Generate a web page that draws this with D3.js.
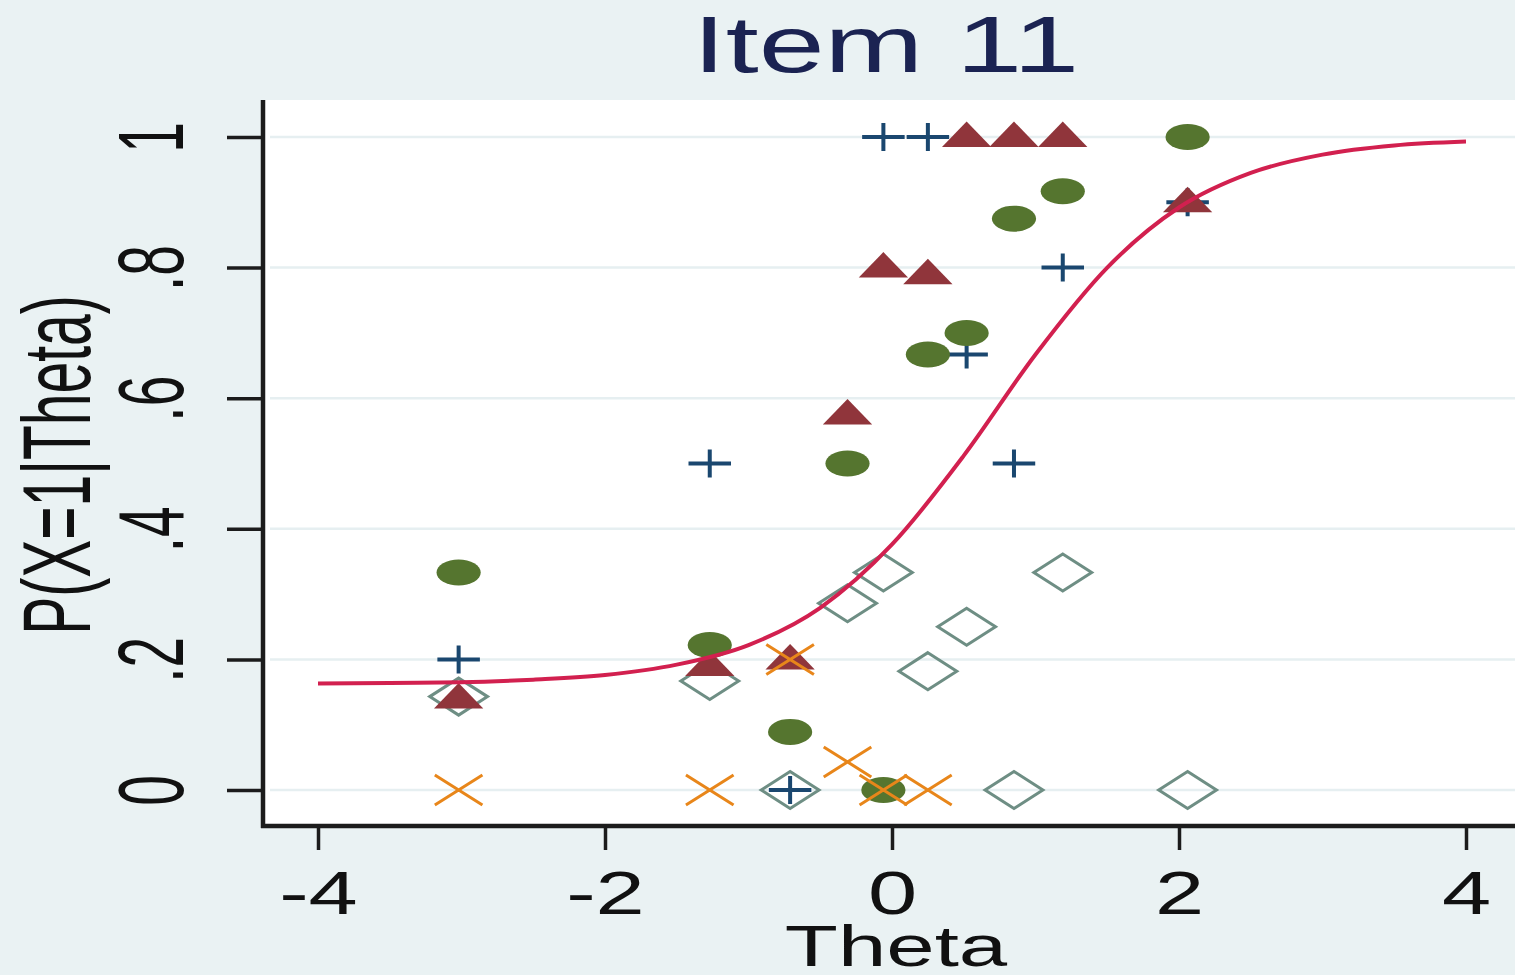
<!DOCTYPE html>
<html>
<head>
<meta charset="utf-8">
<script src="https://cdn.jsdelivr.net/npm/d3@7"></script>
<style>
  html, body { margin: 0; padding: 0; background: #eaf2f3; }
  svg { display: block; }
  text { font-family: "Liberation Sans", Arial, sans-serif; }
</style>
</head>
<body>
<script>
var W = 1515, H = 975;

// theta value of each score group
var thetaGroups = [-3.02, -1.27, -0.71, -0.31, -0.06, 0.25, 0.52, 0.85, 1.19, 2.06];

// observed proportions per category (null = no point)
var greenVals  = [0.333, 0.222, 0.089, 0.5, 0, 0.667, 0.70, 0.875, 0.917, 1];
var maroonVals = [0.14, 0.19, 0.2, 0.575, 0.8, 0.79, 1, 1, 1, 0.9];
var navyVals   = [0.2, 0.5, 0, null, 1, 1, 0.667, 0.5, 0.8, 0.9];
var orangeVals = [0, 0, 0.2, 0.043, 0, 0, null, null, null, null];
var tealVals   = [0.143, 0.167, 0, 0.286, 0.333, 0.182, 0.25, 0, 0.333, 0];

// fitted ICC
var curveTheta = [-4, -3.5, -3, -2.5, -2, -1.5, -1, -0.5, 0, 0.5, 1, 1.5, 2, 2.5, 3, 3.5, 4];
var curveP     = [0.163, 0.164, 0.165, 0.169, 0.176, 0.192, 0.222, 0.279, 0.376, 0.512, 0.667, 0.800, 0.892, 0.945, 0.973, 0.987, 0.993];

var xTicks = [-4, -2, 0, 2, 4];
var xTickLabels = ["-4", "-2", "0", "2", "4"];
var yTicks = [0, 0.2, 0.4, 0.6, 0.8, 1];
var yTickLabels = ["0", ".2", ".4", ".6", ".8", "1"];

var SX = 1.7; // horizontal stretch of the original picture

var x = d3.scaleLinear().domain([-4, 4]).range([318, 1466]);
var y = d3.scaleLinear().domain([0, 1]).range([790, 137]);

var svg = d3.select("body").append("svg")
  .attr("width", W)
  .attr("height", H);

svg.append("rect").attr("width", W).attr("height", H).attr("fill", "#eaf2f3");

// plot region
svg.append("rect")
  .attr("x", 265).attr("y", 100)
  .attr("width", W - 265).attr("height", 724)
  .attr("fill", "#ffffff");

// gridlines
svg.append("g").selectAll("line")
  .data(yTicks)
  .enter().append("line")
  .attr("x1", 270).attr("x2", W)
  .attr("y1", function (d) { return y(d); })
  .attr("y2", function (d) { return y(d); })
  .attr("stroke", "#e6eff1")
  .attr("stroke-width", 2.5);

// axes
var xAxis = svg.append("g")
  .attr("transform", "translate(0,826)")
  .call(d3.axisBottom(x).tickValues(xTicks).tickSize(24)
    .tickFormat(function (d, i) { return xTickLabels[i]; }));
xAxis.select(".domain").remove();
xAxis.selectAll(".tick line").attr("stroke", "#1c1c1c").attr("stroke-width", 3.5);
xAxis.selectAll(".tick text")
  .attr("y", 0).attr("dy", 0)
  .attr("transform", "translate(0,88) scale(1.45,1)")
  .attr("font-size", 61)
  .attr("fill", "#111");

var yAxis = svg.append("g")
  .attr("transform", "translate(263,0)")
  .call(d3.axisLeft(y).tickValues(yTicks).tickSize(36)
    .tickFormat(function (d, i) { return yTickLabels[i]; }));
yAxis.select(".domain").remove();
yAxis.selectAll(".tick line").attr("stroke", "#1c1c1c").attr("stroke-width", 3.5);
yAxis.selectAll(".tick text")
  .attr("x", 0).attr("dy", 0)
  .attr("text-anchor", "middle")
  .attr("transform", "translate(-80,0) scale(" + SX + ",1) rotate(-90)")
  .attr("font-size", 55)
  .attr("fill", "#111");

svg.append("line")
  .attr("x1", 263).attr("x2", 263).attr("y1", 100).attr("y2", 828)
  .attr("stroke", "#1c1c1c").attr("stroke-width", 4.5);
svg.append("line")
  .attr("x1", 261).attr("x2", W).attr("y1", 826).attr("y2", 826)
  .attr("stroke", "#1c1c1c").attr("stroke-width", 4.5);

// markers
function pts(vals) {
  var out = [];
  vals.forEach(function (v, i) {
    if (v !== null) out.push({ t: thetaGroups[i], p: v });
  });
  return out;
}

function place(d) {
  return "translate(" + x(d.t) + "," + y(d.p) + ") scale(" + SX + ",1)";
}

function drawSeries(vals, path, fill, stroke, sw) {
  svg.append("g").selectAll("path")
    .data(pts(vals))
    .enter().append("path")
    .attr("d", path)
    .attr("transform", place)
    .attr("fill", fill)
    .attr("stroke", stroke)
    .attr("stroke-width", sw)
    .attr("vector-effect", "non-scaling-stroke");
}

var diamondPath = "M0,-18.5L17,0L0,18.5L-17,0Z";
var plusPath = "M-12.5,0H12.5M0,-14V14";
var trianglePath = "M0,-15.5L14.5,10L-14.5,10Z";
var circlePath = d3.symbol().type(d3.symbolCircle).size(Math.PI * 13 * 13)();
var crossPath = "M-14,-15L14,15M-14,15L14,-15";

drawSeries(tealVals, diamondPath, "none", "#6e8e84", 3);
drawSeries(navyVals, plusPath, "none", "#1a476f", 4);
drawSeries(maroonVals, trianglePath, "#90353b", "none", 0);
drawSeries(greenVals, circlePath, "#55752f", "none", 0);
drawSeries(orangeVals, crossPath, "none", "#e8861a", 3);

// fitted curve
var line = d3.line()
  .x(function (d) { return x(d[0]); })
  .y(function (d) { return y(d[1]); })
  .curve(d3.curveMonotoneX);

svg.append("path")
  .datum(curveTheta.map(function (t, i) { return [t, curveP[i]]; }))
  .attr("d", line)
  .attr("fill", "none")
  .attr("stroke", "#d2204f")
  .attr("stroke-width", 4);

// titles
svg.append("text")
  .attr("transform", "translate(886,72) scale(1.5,1)")
  .attr("text-anchor", "middle")
  .attr("font-size", 79)
  .attr("fill", "#1b2352")
  .text("Item 11");

svg.append("text")
  .attr("transform", "translate(896,966) scale(1.5,1)")
  .attr("text-anchor", "middle")
  .attr("font-size", 58)
  .attr("fill", "#111")
  .text("Theta");

svg.append("text")
  .attr("transform", "translate(90,465) scale(" + SX + ",1) rotate(-90)")
  .attr("text-anchor", "middle")
  .attr("font-size", 57)
  .attr("fill", "#111")
  .text("P(X=1|Theta)");
</script>
</body>
</html>
